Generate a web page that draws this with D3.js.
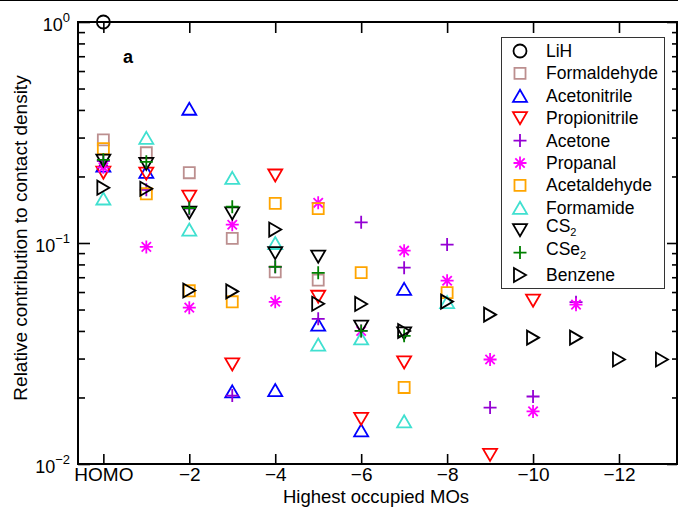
<!DOCTYPE html>
<html>
<head>
<meta charset="utf-8">
<script src="https://cdn.jsdelivr.net/npm/d3@7"></script>
<style>
  html, body { margin: 0; padding: 0; background: #fff; }
  svg { display: block; font-family: "Liberation Sans", Arial, Helvetica, sans-serif; }
</style>
</head>
<body>
<svg id="chart" width="678" height="511"></svg>
<script>
// Orbital index: 0 = HOMO, n = HOMO-n
const xTickValues = [0, 2, 4, 6, 8, 10, 12];
const xTickLabels = ["HOMO", "\u22122", "\u22124", "\u22126", "\u22128", "\u221210", "\u221212"];
const yMajorTicks = [1, 0.1, 0.01];
const yTickExponents = ["0", "\u22121", "\u22122"];

const seriesNames = ["LiH", "Formaldehyde", "Acetonitrile", "Propionitrile", "Acetone",
  "Propanal", "Acetaldehyde", "Formamide", "CS2", "CSe2", "Benzene"];

// Relative contribution of each occupied MO (index 0 = HOMO)
const lih = [1.0];
const formaldehyde = [0.293, 0.256, 0.208, 0.105, 0.074, 0.068];
const acetonitrile = [0.224, 0.210, 0.405, 0.0213, 0.0216, 0.0427, 0.0142, 0.062];
const propionitrile = [0.208, 0.206, 0.162, 0.0282, 0.202, 0.0571, 0.0160, 0.0288, null, 0.0110, 0.0548];
const acetone = [0.235, 0.174, 0.143, 0.0204, 0.078, 0.0454, 0.124, 0.0773, 0.0984, 0.0180, 0.0202, 0.054];
const propanal = [0.220, 0.096, 0.051, 0.121, 0.0542, 0.152, 0.040, 0.0923, 0.0675, 0.0297, 0.0173, 0.0526];
const acetaldehyde = [0.267, 0.167, 0.0608, 0.0542, 0.151, 0.143, 0.0735, 0.0222, 0.0596];
const formamide = [0.159, 0.299, 0.115, 0.197, 0.100, 0.0347, 0.037, 0.0156, 0.054];
const cs2 = [0.236, 0.228, 0.137, 0.136, 0.090, 0.0867, 0.0418, 0.039];
const cse2 = [0.238, 0.233, 0.144, 0.146, 0.078, 0.0733, 0.040, 0.038];
const benzene = [0.178, 0.176, 0.061, 0.0604, 0.115, 0.0531, 0.053, 0.040, 0.0543, 0.0474, 0.0373, 0.0373, 0.0297, 0.0297];

const seriesValues = [lih, formaldehyde, acetonitrile, propionitrile, acetone,
  propanal, acetaldehyde, formamide, cs2, cse2, benzene];
const seriesColors = ["#000000", "#BC8F8F", "#0000FF", "#FF0000", "#9400D3",
  "#FF00FF", "#FFA500", "#40E0D0", "#000000", "#008000", "#000000"];
const seriesShapes = ["circle", "square", "triUp", "triDown", "plus",
  "star", "square", "triUp", "triDown", "plus", "triRight"];

// ---- outline marker shapes (size = half width) ----
const shapes = {
  circle: { draw(c, s) { c.moveTo(s, 0); c.arc(0, 0, s, 0, 2 * Math.PI); } },
  square: { draw(c, s) { c.rect(-s * 0.85, -s * 0.85, s * 1.7, s * 1.7); } },
  triUp: { draw(c, s) { const h = s * 0.86; c.moveTo(0, -h); c.lineTo(s, h); c.lineTo(-s, h); c.closePath(); } },
  triDown: { draw(c, s) { const h = s * 0.86; c.moveTo(0, h); c.lineTo(s, -h); c.lineTo(-s, -h); c.closePath(); } },
  triRight: { draw(c, s) { const h = s * 0.86; c.moveTo(h, 0); c.lineTo(-h, -s); c.lineTo(-h, s); c.closePath(); } },
  plus: { draw(c, s) { c.moveTo(-s, 0); c.lineTo(s, 0); c.moveTo(0, -s); c.lineTo(0, s); } },
  star: { draw(c, s) {
    c.moveTo(-s, 0); c.lineTo(s, 0); c.moveTo(0, -s); c.lineTo(0, s);
    const d = s * 0.72; c.moveTo(-d, -d); c.lineTo(d, d); c.moveTo(-d, d); c.lineTo(d, -d);
  } }
};
const shapeSize = { circle: 6.5, square: 6.5, triUp: 7, triDown: 7, triRight: 7, plus: 6.5, star: 6.5 };
const symbolPath = name => d3.symbol().type(shapes[name]).size(shapeSize[name])();

const svg = d3.select("#chart");
const plotLeft = 78, plotRight = 677, plotTop = 22, plotBottom = 464;

const x = d3.scaleLinear().domain([-0.59, 13.35]).range([plotLeft, plotRight]);
const y = d3.scaleLog().domain([0.01, 1]).range([plotBottom, plotTop]);

// line across the very top
svg.append("line").attr("x1", 0).attr("x2", 678).attr("y1", 0.5).attr("y2", 0.5)
  .attr("stroke", "#000").attr("stroke-width", 1.2);

// frame
svg.append("rect").attr("x", plotLeft).attr("y", plotTop)
  .attr("width", plotRight - plotLeft).attr("height", plotBottom - plotTop)
  .attr("fill", "none").attr("stroke", "#000").attr("stroke-width", 2);

const minorTicks = [];
[0.01, 0.1].forEach(base => { for (let k = 2; k <= 9; k++) minorTicks.push(base * k); });

function styleAxis(g) {
  g.select(".domain").remove();
  g.selectAll(".tick line").attr("stroke", "#000").attr("stroke-width", 1.6);
}

// bottom axis
svg.append("g").attr("transform", `translate(0,${plotBottom})`)
  .call(d3.axisBottom(x).tickValues(xTickValues).tickSizeInner(-10).tickSizeOuter(0).tickPadding(3)
    .tickFormat((d, i) => xTickLabels[i]))
  .call(styleAxis)
  .call(g => g.selectAll(".tick text").attr("font-size", 19).attr("fill", "#000")
    .attr("font-family", "Liberation Sans, Arial, sans-serif"));

// top axis
svg.append("g").attr("transform", `translate(0,${plotTop})`)
  .call(d3.axisTop(x).tickValues(xTickValues).tickSizeInner(-11).tickSizeOuter(0).tickFormat(""))
  .call(styleAxis);

// left axis: minor then major
svg.append("g").attr("transform", `translate(${plotLeft},0)`)
  .call(d3.axisLeft(y).tickValues(minorTicks).tickSizeInner(-7).tickSizeOuter(0).tickFormat(""))
  .call(styleAxis);
svg.append("g").attr("transform", `translate(${plotLeft},0)`)
  .call(d3.axisLeft(y).tickValues(yMajorTicks).tickSizeInner(-12).tickSizeOuter(0).tickFormat(""))
  .call(styleAxis)
  .call(g => g.selectAll(".tick text").each(function (d, i) {
    const t = d3.select(this).attr("x", -8).attr("dy", null).attr("y", 8)
      .attr("text-anchor", "end").attr("font-size", 18).attr("fill", "#000")
      .attr("font-family", "Liberation Sans, Arial, sans-serif");
    t.append("tspan").text("10");
    t.append("tspan").attr("dy", -9).attr("font-size", 13).text(yTickExponents[i]);
  }));

// right axis
svg.append("g").attr("transform", `translate(${plotRight},0)`)
  .call(d3.axisRight(y).tickValues(minorTicks).tickSizeInner(-5).tickSizeOuter(0).tickFormat(""))
  .call(styleAxis);
svg.append("g").attr("transform", `translate(${plotRight},0)`)
  .call(d3.axisRight(y).tickValues(yMajorTicks).tickSizeInner(-10).tickSizeOuter(0).tickFormat(""))
  .call(styleAxis);

// axis titles
svg.append("text").attr("x", 376).attr("y", 503).attr("text-anchor", "middle")
  .attr("font-size", 18.5).text("Highest occupied MOs");
svg.append("text").attr("transform", `translate(27,238) rotate(-90)`)
  .attr("text-anchor", "middle").attr("font-size", 19).text("Relative contribution to contact density");

// panel letter
svg.append("text").attr("x", 123).attr("y", 63).attr("font-size", 18).attr("font-weight", "bold").text("a");

// markers
const plot = svg.append("g");
seriesValues.forEach((vals, si) => {
  const pts = vals.map((v, i) => ({ i, v })).filter(p => p.v != null);
  plot.append("g").selectAll("path").data(pts).join("path")
    .attr("transform", p => `translate(${x(p.i)},${y(p.v)})`)
    .attr("d", symbolPath(seriesShapes[si]))
    .attr("fill", "none").attr("stroke", seriesColors[si]).attr("stroke-width", 1.8);
});

// legend
const lg = svg.append("g");
lg.append("rect").attr("x", 501.5).attr("y", 37.5).attr("width", 163).attr("height", 251)
  .attr("fill", "#fff").attr("stroke", "#333").attr("stroke-width", 1);
seriesNames.forEach((name, i) => {
  const ry = 51 + i * 22.4;
  lg.append("path").attr("transform", `translate(520,${ry})`).attr("d", symbolPath(seriesShapes[i]))
    .attr("fill", "none").attr("stroke", seriesColors[i]).attr("stroke-width", 1.8);
  const t = lg.append("text").attr("x", 546).attr("y", ry + 6).attr("font-size", 17.5);
  const m = name.match(/^(.*?)(\d+)$/);
  if (m) {
    t.attr("y", ry + 2);
    t.append("tspan").text(m[1]);
    t.append("tspan").attr("dy", 4).attr("font-size", 11).text(m[2]);
  } else {
    t.text(name);
  }
});
</script>
</body>
</html>
